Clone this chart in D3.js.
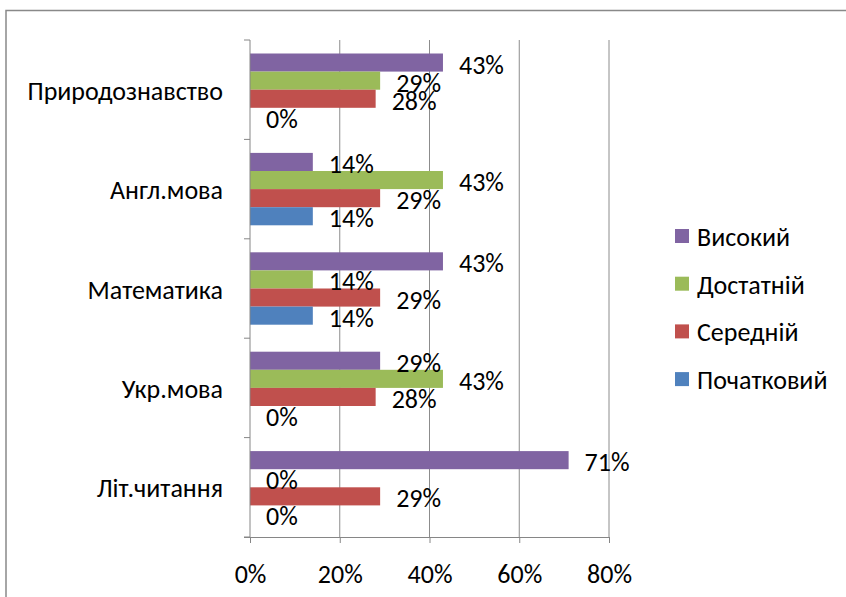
<!DOCTYPE html>
<html>
<head>
<meta charset="utf-8">
<title>Рівні навчальних досягнень</title>
<script src="https://d3js.org/d3.v7.min.js"></script>
<style>
  body { margin: 0; background: #fff; }
  svg text { font-family: Carlito, Calibri, Lato, "Open Sans", sans-serif; fill: #000; }
</style>
</head>
<body>
<div id="chart"></div>
<script>
// subjects, top to bottom
var subjects = ["Природознавство", "Англ.мова", "Математика", "Укр.мова", "Літ.читання"];
// levels, in the order they appear in each group and in the legend
var levels = ["Високий", "Достатній", "Середній", "Початковий"];
var levelColors = ["#8064A2", "#9BBB59", "#C0504D", "#4F81BD"];

// share of pupils per level, same order as subjects
var highVals = [0.43, 0.14, 0.43, 0.29, 0.71];
var enoughVals = [0.29, 0.43, 0.14, 0.43, 0.00];
var middleVals = [0.28, 0.29, 0.29, 0.28, 0.29];
var startVals = [0.00, 0.14, 0.14, 0.00, 0.00];
var xTicks = [0, 0.2, 0.4, 0.6, 0.8];

var seriesVals = [highVals, enoughVals, middleVals, startVals];

var W = 846, H = 597;
var plotLeft = 250, plotRight = 609, plotTop = 40, plotBottom = 537;
var fs = "26px";

var svg = d3.select("#chart").append("svg")
    .attr("width", W)
    .attr("height", H);

// outer frame of the chart area (runs off the right and bottom)
svg.append("rect")
    .attr("x", 6).attr("y", 10.5)
    .attr("width", W + 20).attr("height", H + 20)
    .attr("fill", "none")
    .attr("stroke", "#898989")
    .attr("stroke-width", 1.5);

var x = d3.scaleLinear().domain([0, 0.8]).range([plotLeft, plotRight]);
var y = d3.scaleBand().domain(subjects).range([plotTop, plotBottom]);
var inner = d3.scaleBand().domain(levels)
    .range([13.5, y.bandwidth() - 13.5]);

// vertical grid lines
svg.append("g")
    .selectAll("line")
    .data(xTicks.slice(1))
    .enter().append("line")
    .attr("x1", function (d) { return x(d); })
    .attr("x2", function (d) { return x(d); })
    .attr("y1", plotTop).attr("y2", plotBottom)
    .attr("stroke", "#8c8c8c")
    .attr("stroke-width", 1);

// bars
var rows = [];
subjects.forEach(function (s, i) {
    levels.forEach(function (l, j) {
        rows.push({ subject: s, level: l, value: seriesVals[j][i], color: levelColors[j] });
    });
});

svg.append("g")
    .selectAll("rect")
    .data(rows)
    .enter().append("rect")
    .attr("x", x(0))
    .attr("y", function (d) { return y(d.subject) + inner(d.level); })
    .attr("width", function (d) { return x(d.value) - x(0); })
    .attr("height", inner.bandwidth())
    .attr("fill", function (d) { return d.color; });

// value labels
svg.append("g")
    .selectAll("text")
    .data(rows)
    .enter().append("text")
    .attr("x", function (d) { return x(d.value) + 16; })
    .attr("y", function (d) { return y(d.subject) + inner(d.level) + inner.bandwidth() / 2 + 2; })
    .attr("dominant-baseline", "central")
    .style("font-size", fs)
    .text(function (d) { return Math.round(d.value * 100) + "%"; });

// y axis
var yAxis = svg.append("g")
    .attr("transform", "translate(" + plotLeft + ",0)");
yAxis.append("line")
    .attr("x1", 0).attr("x2", 0)
    .attr("y1", plotTop).attr("y2", plotBottom)
    .attr("stroke", "#868686");
yAxis.selectAll(".tk")
    .data(subjects.map(function (s) { return y(s); }).concat([plotBottom]))
    .enter().append("line")
    .attr("x1", -6).attr("x2", 0)
    .attr("y1", function (d) { return d; })
    .attr("y2", function (d) { return d; })
    .attr("stroke", "#868686");
yAxis.selectAll("text")
    .data(subjects)
    .enter().append("text")
    .attr("x", -27)
    .attr("y", function (d) { return y(d) + y.bandwidth() / 2 + 1; })
    .attr("text-anchor", "end")
    .attr("dominant-baseline", "central")
    .style("font-size", fs)
    .text(function (d) { return d; });

// x axis
var xAxis = svg.append("g")
    .attr("transform", "translate(0," + plotBottom + ")")
    .call(d3.axisBottom(x).tickValues(xTicks).tickSize(6)
        .tickFormat(function (d) { return Math.round(d * 100) + "%"; }));
xAxis.select(".domain").attr("stroke", "#868686")
    .attr("d", "M" + (plotLeft - 6) + ",0.5H" + plotRight);
xAxis.selectAll(".tick line").attr("stroke", "#868686");
xAxis.selectAll(".tick text")
    .attr("y", 37)
    .attr("dy", 0)
    .attr("dominant-baseline", "central")
    .style("font-size", fs)
    .style("font-family", null);

// legend
var legend = svg.append("g")
    .selectAll("g")
    .data(levels)
    .enter().append("g")
    .attr("transform", function (d, i) { return "translate(675," + (236 + i * 47.7) + ")"; });
legend.append("rect")
    .attr("x", 0).attr("y", -7)
    .attr("width", 14).attr("height", 14)
    .attr("fill", function (d, i) { return levelColors[i]; });
legend.append("text")
    .attr("x", 22).attr("y", 1)
    .attr("dominant-baseline", "central")
    .style("font-size", fs)
    .text(function (d) { return d; });
</script>
</body>
</html>
